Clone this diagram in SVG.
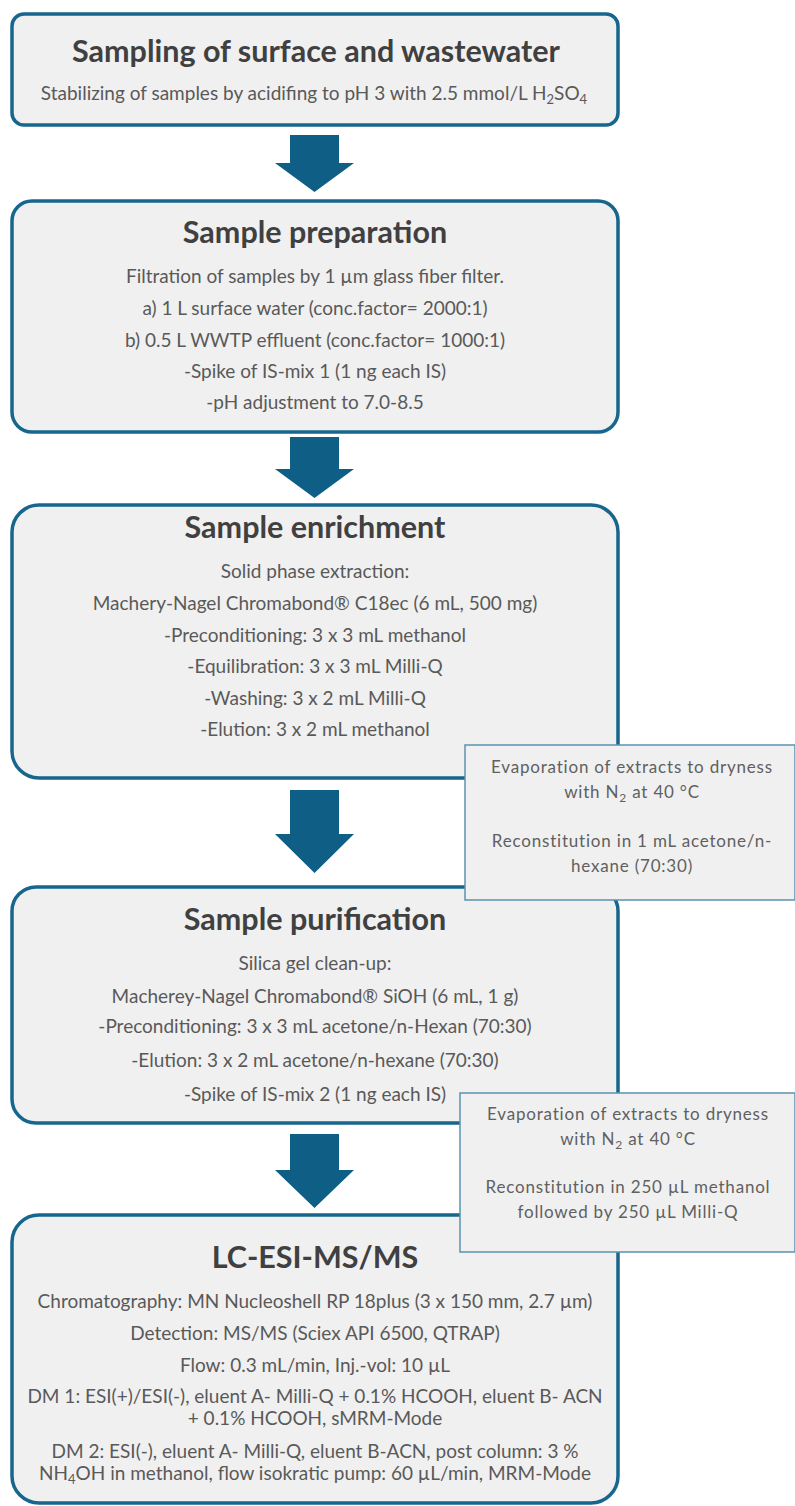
<svg xmlns="http://www.w3.org/2000/svg" width="795" height="1506" viewBox="0 0 795 1506">
<style>
.box{fill:#f0f0f0;stroke:#17668e;stroke-width:3.5}
.side{fill:#f0f0f0;stroke:#5a92b0;stroke-width:1.5}
.arrow{fill:#0e5e85}
.t{font-family:Lato,"Open Sans",sans-serif;font-weight:bold;fill:#404040;text-anchor:middle;font-size:30.5px}
.b{font-family:Lato,"Open Sans",sans-serif;fill:#595959;text-anchor:middle;font-size:19px}
.s{font-family:Lato,"Open Sans",sans-serif;fill:#606060;text-anchor:middle;font-size:17px;letter-spacing:0.8px}
</style>
<rect width="795" height="1506" fill="#ffffff"/>
<g id="connectors">
<path class="arrow" d="M290,135 H339 V163 H354 L314.5,192 L275,163 H290 Z"/>
<path class="arrow" d="M290,437 H339 V469 H354 L314.5,498 L275,469 H290 Z"/>
<path class="arrow" d="M290,790 H339 V834 H354 L314.5,873 L275,834 H290 Z"/>
<path class="arrow" d="M290,1134 H339 V1170 H354 L314.5,1208 L275,1170 H290 Z"/>
</g>
<g id="node1">
<rect class="box" x="12" y="14" width="606" height="111" rx="12"/>
<text class="t" x="316" y="62">Sampling of surface and wastewater</text>
<text class="b" x="314" y="100">Stabilizing of samples by acidifing to pH 3 with 2.5 mmol/L H<tspan font-size="13" dy="4">2</tspan><tspan dy="-4">SO</tspan><tspan font-size="13" dy="4">4</tspan></text>
</g>
<g id="node2">
<rect class="box" x="12" y="201" width="606" height="231" rx="20"/>
<text class="t" x="315" y="243">Sample preparation</text>
<text class="b" x="315" y="283">Filtration of samples by 1 µm glass fiber filter.</text>
<text class="b" x="315" y="315">a) 1 L surface water (conc.factor= 2000:1)</text>
<text class="b" x="315" y="347">b) 0.5 L WWTP effluent (conc.factor= 1000:1)</text>
<text class="b" x="315" y="378">-Spike of IS-mix 1 (1 ng each IS)</text>
<text class="b" x="315" y="409">-pH adjustment to 7.0-8.5</text>
</g>
<g id="node3">
<rect class="box" x="12" y="505" width="606" height="273" rx="27"/>
<text class="t" x="315" y="538">Sample enrichment</text>
<text class="b" x="315" y="578">Solid phase extraction:</text>
<text class="b" x="315" y="610">Machery-Nagel Chromabond® C18ec (6 mL, 500 mg)</text>
<text class="b" x="315" y="642">-Preconditioning: 3 x 3 mL methanol</text>
<text class="b" x="315" y="673">-Equilibration: 3 x 3 mL Milli-Q</text>
<text class="b" x="315" y="705">-Washing: 3 x 2 mL Milli-Q</text>
<text class="b" x="315" y="736">-Elution: 3 x 2 mL methanol</text>
</g>
<g id="node4">
<rect class="box" x="12" y="887" width="606" height="236" rx="24"/>
<text class="t" x="315" y="930">Sample purification</text>
<text class="b" x="315" y="970">Silica gel clean-up:</text>
<text class="b" x="315" y="1003">Macherey-Nagel Chromabond®  SiOH (6 mL, 1 g)</text>
<text class="b" x="315" y="1033">-Preconditioning: 3 x 3 mL acetone/n-Hexan (70:30)</text>
<text class="b" x="315" y="1067">-Elution: 3 x 2 mL acetone/n-hexane (70:30)</text>
<text class="b" x="315" y="1101">-Spike of IS-mix 2 (1 ng each IS)</text>
</g>
<g id="node5">
<rect class="box" x="12" y="1215" width="606" height="288" rx="27"/>
<text class="t" x="315" y="1268">LC-ESI-MS/MS</text>
<text class="b" x="315" y="1308">Chromatography: MN Nucleoshell RP 18plus (3 x 150  mm, 2.7 µm)</text>
<text class="b" x="315" y="1340">Detection: MS/MS (Sciex API 6500, QTRAP)</text>
<text class="b" x="315" y="1372">Flow: 0.3 mL/min, Inj.-vol: 10  µL</text>
<text class="b" x="315" y="1403">DM 1: ESI(+)/ESI(-), eluent A- Milli-Q + 0.1% HCOOH, eluent B- ACN</text>
<text class="b" x="315" y="1425">+ 0.1% HCOOH, sMRM-Mode</text>
<text class="b" x="315" y="1458">DM 2: ESI(-), eluent A- Milli-Q, eluent B-ACN, post column: 3 %</text>
<text class="b" x="315" y="1480">NH<tspan font-size="13" dy="4">4</tspan><tspan dy="-4">OH in methanol, flow isokratic pump: 60 µL/min, MRM-Mode</tspan></text>
</g>
<g id="side1">
<rect class="side" x="465" y="745" width="330" height="155"/>
<text class="s" x="632" y="773">Evaporation of extracts to dryness</text>
<text class="s" x="632" y="798">with N<tspan font-size="12" dy="4">2</tspan><tspan dy="-4"> at 40 °C</tspan></text>
<text class="s" x="632" y="847">Reconstitution in 1 mL acetone/n-</text>
<text class="s" x="632" y="872">hexane (70:30)</text>
</g>
<g id="side2">
<rect class="side" x="460" y="1093" width="335" height="159"/>
<text class="s" x="628" y="1120">Evaporation of extracts to dryness</text>
<text class="s" x="628" y="1145">with N<tspan font-size="12" dy="4">2</tspan><tspan dy="-4"> at 40 °C</tspan></text>
<text class="s" x="628" y="1193">Reconstitution in 250 µL methanol</text>
<text class="s" x="628" y="1218">followed by 250 µL Milli-Q</text>
</g>
</svg>
